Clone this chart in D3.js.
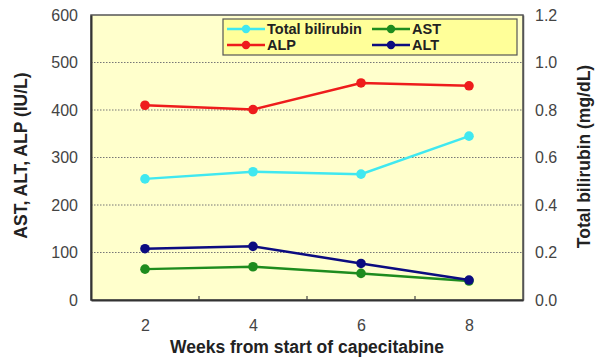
<!DOCTYPE html>
<html>
<head>
<meta charset="utf-8">
<script src="https://cdn.jsdelivr.net/npm/d3@7"></script>
<style>
  body { margin: 0; background: #fff; }
  text { font-family: Arial, "Liberation Sans", sans-serif; }
</style>
</head>
<body>
<div id="chart"></div>
<script>
// Dữ liệu
const weeks = [2, 4, 6, 8];
const bilirubin = [0.51, 0.54, 0.53, 0.69];
const alp = [410, 401, 457, 451];
const ast = [65, 70, 56, 40];
const alt = [108, 113, 77, 42];
const leftTicks = [0, 100, 200, 300, 400, 500, 600];
const rightTicks = [0, 0.2, 0.4, 0.6, 0.8, 1.0, 1.2];

const W = 600, H = 358;
const margin = { top: 15, right: 77, bottom: 58, left: 91 },
      width = W - margin.left - margin.right,
      height = H - margin.top - margin.bottom;

const svg = d3.select("#chart").append("svg")
    .attr("width", W).attr("height", H)
  .append("g")
    .attr("transform", `translate(${margin.left},${margin.top})`);

const x = d3.scaleLinear().domain([1, 9]).range([0, width]);
const yL = d3.scaleLinear().domain([0, 600]).range([height, 0]);
const yR = d3.scaleLinear().domain([0, 1.2]).range([height, 0]);

// Nền vùng vẽ
svg.append("rect")
  .attr("width", width).attr("height", height)
  .attr("fill", "#ffffcc");

// Lưới ngang
svg.selectAll("line.grid")
  .data(leftTicks.slice(1, -1))
  .enter().append("line")
    .attr("class", "grid")
    .attr("x1", 0).attr("x2", width)
    .attr("y1", d => yL(d)).attr("y2", d => yL(d))
    .attr("stroke", "#777")
    .attr("stroke-width", 1)
    .attr("stroke-dasharray", "1.5,1.5");

// Khung
svg.append("rect")
  .attr("width", width).attr("height", height)
  .attr("fill", "none")
  .attr("stroke", "#555")
  .attr("stroke-width", 1.5);

// Trục trái
const axL = svg.append("g")
  .call(d3.axisLeft(yL).tickValues(leftTicks).tickSize(0).tickPadding(13));
axL.select(".domain").attr("stroke", "#333").attr("stroke-width", 2);
axL.selectAll("text").style("font-size", "16px").attr("fill", "#444");

// Trục phải
const axR = svg.append("g")
  .attr("transform", `translate(${width},0)`)
  .call(d3.axisRight(yR).tickValues(rightTicks).tickSize(0).tickPadding(12)
          .tickFormat(d3.format(".1f")));
axR.select(".domain").attr("stroke", "#555").attr("stroke-width", 1.5);
axR.selectAll("text").style("font-size", "16px").attr("fill", "#444");

// Trục X: nhãn ở 2,4,6,8, vạch chia ở giữa các nhóm
const axX = svg.append("g")
  .attr("transform", `translate(0,${height})`)
  .call(d3.axisBottom(x).tickValues(weeks).tickSize(0).tickPadding(20));
axX.select(".domain").attr("stroke", "#333").attr("stroke-width", 2);
axX.selectAll("text").style("font-size", "16px").attr("fill", "#444");

svg.selectAll("line.xtick")
  .data([3, 5, 7])
  .enter().append("line")
    .attr("x1", d => x(d)).attr("x2", d => x(d))
    .attr("y1", height).attr("y2", height - 4)
    .attr("stroke", "#444").attr("stroke-width", 1.2);

// Tiêu đề trục
svg.append("text")
  .attr("transform", `translate(${-64},${height / 2 - 2}) rotate(-90)`)
  .attr("text-anchor", "middle")
  .style("font-size", "17.5px").style("font-weight", "bold")
  .attr("fill", "#222")
  .text("AST, ALT, ALP (IU/L)");

svg.append("text")
  .attr("transform", `translate(${width + 67},${height / 2 - 1}) rotate(-90)`)
  .attr("text-anchor", "middle")
  .style("font-size", "17.5px").style("font-weight", "bold")
  .attr("fill", "#222")
  .text("Total bilirubin (mg/dL)");

svg.append("text")
  .attr("x", width / 2).attr("y", height + 53)
  .attr("text-anchor", "middle")
  .style("font-size", "17.5px").style("font-weight", "bold")
  .attr("fill", "#222")
  .text("Weeks from start of capecitabine");

// Các chuỗi
const series = [
  { name: "Total bilirubin", values: bilirubin, y: yR, color: "#40e8f0" },
  { name: "ALP", values: alp, y: yL, color: "#ee1c1c" },
  { name: "AST", values: ast, y: yL, color: "#1e8c1e" },
  { name: "ALT", values: alt, y: yL, color: "#0c0c80" }
];

series.forEach(s => {
  const pts = weeks.map((w, i) => [w, s.values[i]]);
  svg.append("path")
    .datum(pts)
    .attr("fill", "none")
    .attr("stroke", s.color)
    .attr("stroke-width", 2.5)
    .attr("d", d3.line().x(d => x(d[0])).y(d => s.y(d[1])));
  svg.selectAll(null)
    .data(pts)
    .enter().append("circle")
      .attr("cx", d => x(d[0]))
      .attr("cy", d => s.y(d[1]))
      .attr("r", 4.8)
      .attr("fill", s.color);
});

// Chú giải
const lg = svg.append("g").attr("transform", "translate(132,4)");
lg.append("rect")
  .attr("width", 294).attr("height", 36)
  .attr("fill", "#ffff99")
  .attr("stroke", "#555").attr("stroke-width", 1.2);

const legendPos = [
  { s: series[0], x: 4, y: 10 },
  { s: series[1], x: 4, y: 26 },
  { s: series[2], x: 149, y: 10 },
  { s: series[3], x: 149, y: 26 }
];
legendPos.forEach(p => {
  const g = lg.append("g").attr("transform", `translate(${p.x},${p.y})`);
  g.append("line").attr("x1", 0).attr("x2", 38)
    .attr("stroke", p.s.color).attr("stroke-width", 2.5);
  g.append("circle").attr("cx", 19).attr("r", 4.2).attr("fill", p.s.color);
  g.append("text").attr("x", 40).attr("y", 5)
    .style("font-size", "14.5px").style("font-weight", "bold")
    .attr("fill", "#222")
    .text(p.s.name);
});
</script>
</body>
</html>
